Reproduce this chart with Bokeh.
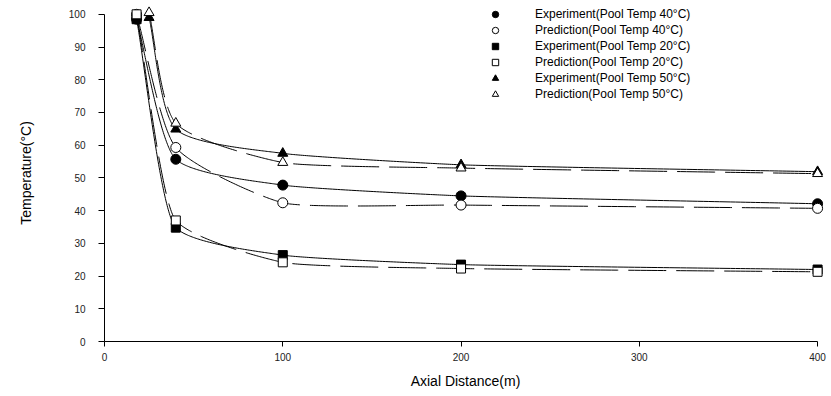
import numpy as np
from bokeh.plotting import figure
from bokeh.models import Range1d, Legend, LegendItem
from bokeh.embed import file_html
from bokeh.resources import INLINE

# ---------------- data ----------------
dist_40 = [18, 40, 100, 200, 400]
exp_40 = [98.5, 55.7, 47.8, 44.5, 42.1]
pred_40 = [100.0, 59.3, 42.4, 41.7, 40.7]

dist_20 = [18, 40, 100, 200, 400]
exp_20 = [98.5, 34.8, 26.4, 23.5, 22.0]
pred_20 = [100.0, 37.0, 24.2, 22.3, 21.3]

dist_50 = [25, 40, 100, 200, 400]
exp_50 = [99.0, 64.9, 57.5, 54.0, 51.9]
pred_50 = [100.5, 66.7, 54.7, 53.0, 51.3]

x_ticks = [0, 100, 200, 300, 400]
y_ticks = [0, 10, 20, 30, 40, 50, 60, 70, 80, 90, 100]

labels = [
    "Experiment(Pool Temp 40°C)",
    "Prediction(Pool Temp 40°C)",
    "Experiment(Pool Temp 20°C)",
    "Prediction(Pool Temp 20°C)",
    "Experiment(Pool Temp 50°C)",
    "Prediction(Pool Temp 50°C)",
]

FONT = "Liberation Sans"
SX, SY = 1.7825, 3.272  # approx px per data unit, for smoothing in screen-like space
K = 0.6                 # tangent length factor for the smoothing curve


def smooth(xs, ys, n=80):
    """Geometric Hermite curve through the points (tangents from neighbouring chords)."""
    P = np.column_stack([np.asarray(xs, float) * SX, np.asarray(ys, float) * SY])
    V = np.diff(P, axis=0)
    L = np.hypot(V[:, 0], V[:, 1])
    U = V / L[:, None]
    T = np.zeros_like(P)
    T[0] = U[0] * L[0] * K
    T[-1] = U[-1] * L[-1] * K
    for i in range(1, len(P) - 1):
        d = U[i - 1] + U[i]
        d = d / np.hypot(*d)
        T[i] = d * min(L[i - 1], L[i]) * K
    s = np.linspace(0, 1, n)[:, None]
    h00 = 2 * s ** 3 - 3 * s ** 2 + 1
    h10 = s ** 3 - 2 * s ** 2 + s
    h01 = -2 * s ** 3 + 3 * s ** 2
    h11 = s ** 3 - s ** 2
    segs = []
    for i in range(len(P) - 1):
        c = h00 * P[i] + h10 * T[i] + h01 * P[i + 1] + h11 * T[i + 1]
        segs.append(c if i == 0 else c[1:])
    C = np.vstack(segs)
    return C[:, 0] / SX, C[:, 1] / SY


p = figure(
    width=831, height=396,
    x_range=Range1d(0, 405), y_range=Range1d(0, 103),
    output_backend="svg", toolbar_location=None,
    min_border_left=104, min_border_right=5, min_border_top=4, min_border_bottom=55,
)
p.outline_line_color = None
p.grid.visible = False
p.background_fill_color = "white"
p.border_fill_color = "white"

# curves
series = [
    (dist_40, exp_40, "solid"),
    (dist_40, pred_40, "38 10"),
    (dist_20, exp_20, "solid"),
    (dist_20, pred_20, "38 10"),
    (dist_50, exp_50, "solid"),
    (dist_50, pred_50, "38 10"),
]
for xs, ys, dash in series:
    cx, cy = smooth(xs, ys)
    p.line(cx, cy, line_color="black", line_width=1, line_dash=dash)

# markers
r1 = p.scatter(dist_40, exp_40, marker="circle", size=10, fill_color="black", line_color="black")
r2 = p.scatter(dist_40, pred_40, marker="circle", size=10, fill_color="white", line_color="black")
r3 = p.scatter(dist_20, exp_20, marker="square", size=9, fill_color="black", line_color="black")
r4 = p.scatter(dist_20, pred_20, marker="square", size=9, fill_color="white", line_color="black")
r5 = p.scatter(dist_50, exp_50, marker="triangle", size=10, fill_color="black", line_color="black")
r6 = p.scatter(dist_50, pred_50, marker="triangle", size=10, fill_color="white", line_color="black")

legend = Legend(
    items=[LegendItem(label=l, renderers=[r]) for l, r in zip(labels, [r1, r2, r3, r4, r5, r6])],
    location=(381, 239),
    glyph_width=20, glyph_height=16, label_height=16, spacing=0,
    padding=0, margin=0, label_standoff=30,
    border_line_color=None, background_fill_alpha=0,
    label_text_font=FONT, label_text_font_size="12px", label_text_color="black",
)
p.add_layout(legend)

# axes
for ax in (p.xaxis, p.yaxis):
    ax.axis_line_color = "black"
    ax.major_tick_line_color = "black"
    ax.minor_tick_line_color = None
    ax.major_tick_in = 0
    ax.major_label_text_font = FONT
    ax.major_label_text_font_size = "10px"
    ax.major_label_text_color = "#222222"
    ax.axis_label_text_font = FONT
    ax.axis_label_text_font_style = "normal"
    ax.axis_label_text_color = "black"

p.xaxis.ticker = x_ticks
p.xaxis.bounds = (0, 400)
p.xaxis.major_tick_out = 5
p.xaxis.major_label_standoff = 6
p.xaxis.axis_label = "Axial Distance(m)"
p.xaxis.axis_label_text_font_size = "14px"
p.xaxis.axis_label_standoff = 9

p.yaxis.ticker = y_ticks
p.yaxis.bounds = (0, 100)
p.yaxis.major_tick_out = 6
p.yaxis.major_label_standoff = 13
p.yaxis.axis_label = "Temperature(°C)"
p.yaxis.axis_label_text_font_size = "14px"
p.yaxis.axis_label_standoff = 32

open("out.html", "w").write(file_html(p, INLINE))
